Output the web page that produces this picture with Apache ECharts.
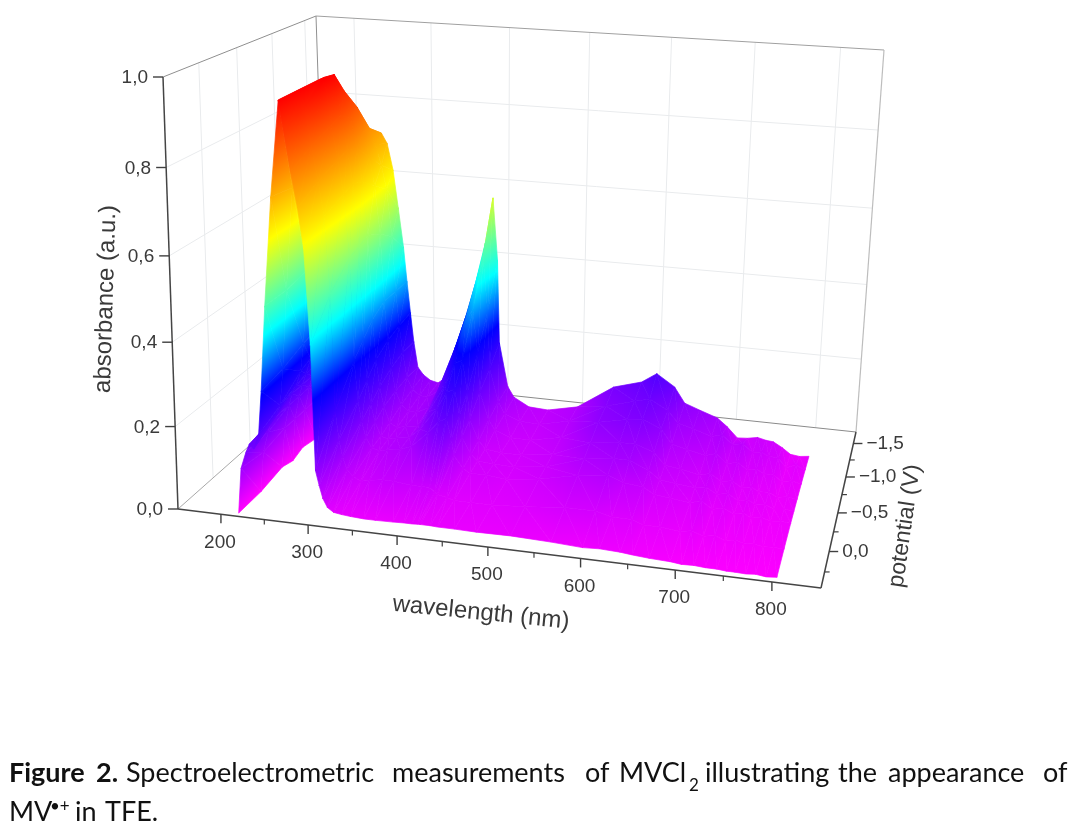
<!DOCTYPE html>
<html>
<head>
<meta charset="utf-8">
<style>html,body{margin:0;padding:0;background:#fff}#chart{width:1080px;height:828px}</style>
<script src="https://cdn.jsdelivr.net/npm/echarts@6/dist/echarts.min.js"></script>
</head>
<body>
<div id="chart"></div>
<script>
// measured spectra, one row per potential, back row first
const wavelengths = [217,221,227,231,236,242,246,252,261,271,276,283,290,296,302,306,310,314,319,326,335,345,360,373,393,405,414,420,423,434,442,461,485,522,566,600,618,640,653,671,693,705,718,730,742,752,761,772,782,793,804];
const potentials = [-1.1,-0.9,-0.7,-0.5,-0.35,-0.2,0.1,0.4];
const spectrumM110 = [.00,.11,.17,.20,.23,.27,.31,.44,.60,.71,.76,.735,.668,.57,.47,.38,.297,.22,.152,.133,.12,.115,.14,.22,.37,.50,.617,.458,.24,.125,.098,.076,.073,.09,.153,.174,.20,.17,.13,.116,.10,.08,.053,.055,.06,.055,.053,.04,.025,.022,.025];
const spectrumM090 = [.01,.11,.17,.20,.23,.27,.33,.47,.64,.76,.79,.75,.70,.64,.52,.38,.29,.22,.155,.125,.11,.108,.13,.20,.33,.42,.49,.35,.20,.115,.085,.07,.068,.085,.135,.155,.165,.14,.11,.10,.085,.092,.07,.075,.055,.058,.05,.048,.025,.035,.025];
const spectrumM070 = [.00,.11,.17,.20,.23,.27,.34,.49,.67,.82,.86,.80,.74,.67,.55,.38,.28,.21,.15,.115,.10,.10,.115,.17,.28,.35,.38,.27,.17,.10,.075,.06,.06,.075,.125,.14,.145,.125,.09,.08,.07,.078,.055,.062,.045,.05,.04,.04,.025,.03,.024];
const spectrumM050 = [.01,.11,.17,.20,.23,.27,.34,.50,.69,.87,.915,.85,.78,.70,.57,.36,.26,.19,.14,.10,.09,.095,.10,.14,.21,.27,.28,.20,.13,.08,.06,.055,.055,.065,.105,.115,.115,.10,.07,.065,.055,.062,.045,.05,.035,.04,.03,.032,.022,.026,.022];
const spectrumM035 = [.00,.11,.17,.20,.23,.27,.335,.495,.70,.92,.965,.87,.79,.71,.56,.33,.23,.17,.125,.09,.085,.09,.095,.12,.175,.22,.23,.165,.11,.07,.055,.052,.05,.06,.09,.10,.10,.08,.06,.055,.05,.055,.04,.045,.03,.035,.027,.028,.02,.023,.02];
const spectrumM020 = [.01,.11,.17,.20,.22,.26,.33,.51,.74,.965,.97,.86,.78,.70,.55,.30,.20,.15,.11,.085,.08,.085,.09,.10,.14,.17,.18,.13,.09,.06,.05,.05,.045,.055,.075,.085,.07,.065,.05,.045,.04,.048,.03,.036,.025,.03,.02,.024,.018,.02,.018];
const spectrumP010 = [.00,.10,.15,.18,.19,.22,.31,.50,.74,.965,.93,.84,.76,.68,.50,.22,.15,.11,.08,.065,.055,.06,.065,.065,.06,.06,.06,.05,.045,.04,.035,.035,.035,.04,.05,.05,.04,.04,.03,.03,.025,.03,.02,.025,.015,.02,.015,.016,.012,.014,.012];
const spectrumP040 = [.00,.11,.15,.17,.16,.195,.30,.50,.75,.965,.90,.81,.73,.64,.42,.125,.09,.06,.04,.03,.027,.025,.023,.023,.024,.025,.025,.026,.026,.026,.025,.025,.024,.025,.022,.018,.02,.018,.015,.012,.01,.007,.008,.006,.006,.004,.004,.003,.005,.002,.004];
const spectra = [spectrumM110, spectrumM090, spectrumM070, spectrumM050, spectrumM035, spectrumM020, spectrumP010, spectrumP040];

const absorbanceTicks = [0, 0.2, 0.4, 0.6, 0.8, 1.0];
const absorbanceLabels = ['0,0', '0,2', '0,4', '0,6', '0,8', '1,0'];
const wavelengthTicks = [200, 300, 400, 500, 600, 700, 800];
const wavelengthMinor = [250, 350, 450, 550, 650, 750];
const potentialTicks = [0, -0.5, -1.0, -1.5];
const potentialLabels = ['0,0', '\u22120,5', '\u22121,0', '\u22121,5'];
const potentialMinor = [0.25, -0.25, -0.75, -1.25];

const colorValues = [0, 0.29, 0.43, 0.54, 0.65, 0.965];
const colorNames = ['#ff00ff', '#0000ff', '#00ffff', '#80ff80', '#ffff00', '#ff0000'];

// box extent on the three axes
const WL_MIN = 150, WL_MAX = 850, V_FRONT = 0.44, V_BACK = -1.68;

// box corners on the page plane, [wavelength end][depth end][absorbance end]
const CORNERS = {
    '000': [178, 509], '100': [821, 588], '010': [328, 376], '110': [856, 432],
    '001': [163, 77], '101': [851, 128], '011': [316, 16], '111': [884, 50]
};

function warp(t, k) {
    return t / (t + k * (1 - t));
}

// perspective box projection: data triple to a point of the page plane
function toPlane(wl, v, a) {
    const u = warp((wl - WL_MIN) / (WL_MAX - WL_MIN), 1.075);
    const d = warp((V_FRONT - v) / (V_FRONT - V_BACK), 0.858);
    const h = warp(a, 1.06);
    const out = [0, 0];
    for (const key in CORNERS) {
        const w = (key[0] === '1' ? u : 1 - u) * (key[1] === '1' ? d : 1 - d) * (key[2] === '1' ? h : 1 - h);
        out[0] += w * CORNERS[key][0];
        out[1] += w * CORNERS[key][1];
    }
    return out;
}

function colorAt(a) {
    if (a <= colorValues[0]) return colorNames[0];
    for (let i = 1; i < colorValues.length; i++) {
        if (a <= colorValues[i]) {
            const t = (a - colorValues[i - 1]) / (colorValues[i] - colorValues[i - 1]);
            return echarts.color.lerp(t, [colorNames[i - 1], colorNames[i]]);
        }
    }
    return colorNames[colorNames.length - 1];
}

// exact linear colour field over one triangle
function triangleFill(p, a) {
    const min = Math.min(a[0], a[1], a[2]), max = Math.max(a[0], a[1], a[2]);
    const e1 = [p[1][0] - p[0][0], p[1][1] - p[0][1]];
    const e2 = [p[2][0] - p[0][0], p[2][1] - p[0][1]];
    const det = e1[0] * e2[1] - e1[1] * e2[0];
    if (max - min < 1e-4 || Math.abs(det) < 1e-3) return colorAt((min + max) / 2);
    const da1 = a[1] - a[0], da2 = a[2] - a[0];
    const gx = (da1 * e2[1] - da2 * e1[1]) / det;
    const gy = (da2 * e1[0] - da1 * e2[0]) / det;
    const g2 = gx * gx + gy * gy;
    const lo = a.indexOf(min);
    const x = p[lo][0], y = p[lo][1];
    const stops = [{ offset: 0, color: colorAt(min) }];
    colorValues.forEach(function (c) {
        if (c > min && c < max) stops.push({ offset: (c - min) / (max - min), color: colorAt(c) });
    });
    stops.push({ offset: 1, color: colorAt(max) });
    const span = (max - min) / g2;
    return new echarts.graphic.LinearGradient(x, y, x + gx * span, y + gy * span, stops, true);
}

const cells = [];
for (let r = 0; r < potentials.length - 1; r++) {
    for (let c = 0; c < wavelengths.length - 1; c++) {
        cells.push([r, c]);
    }
}

function renderCell(params, api) {
    const r = api.value(0), c = api.value(1);
    const corner = function (ri, ci) {
        return api.coord(toPlane(wavelengths[ci], potentials[ri], spectra[ri][ci]));
    };
    const pts = [corner(r, c), corner(r, c + 1), corner(r + 1, c + 1), corner(r + 1, c)];
    const vals = [spectra[r][c], spectra[r][c + 1], spectra[r + 1][c + 1], spectra[r + 1][c]];
    const tri = function (i, j, k) {
        const p = [pts[i], pts[j], pts[k]];
        const fill = triangleFill(p, [vals[i], vals[j], vals[k]]);
        return { type: 'polygon', shape: { points: p }, style: { fill: fill, stroke: fill, lineWidth: 0.7 }, silent: true };
    };
    return { type: 'group', children: [tri(0, 1, 2), tri(0, 2, 3)] };
}

function segment(api, from, to, color, width) {
    const a = api.coord(toPlane(from[0], from[1], from[2]));
    const b = api.coord(toPlane(to[0], to[1], to[2]));
    return {
        type: 'line',
        shape: { x1: a[0], y1: a[1], x2: b[0], y2: b[1] },
        style: { stroke: color, lineWidth: width },
        silent: true
    };
}

function renderWalls(params, api) {
    const children = [];
    const light = '#e9ebed';
    absorbanceTicks.slice(1, -1).forEach(function (a) {
        children.push(segment(api, [WL_MIN, V_FRONT, a], [WL_MIN, V_BACK, a], light, 1));
        children.push(segment(api, [WL_MIN, V_BACK, a], [WL_MAX, V_BACK, a], light, 1));
    });
    potentialTicks.forEach(function (v) {
        children.push(segment(api, [WL_MIN, v, 0], [WL_MIN, v, 1], light, 1));
    });
    wavelengthTicks.forEach(function (wl) {
        children.push(segment(api, [wl, V_BACK, 0], [wl, V_BACK, 1], light, 1));
    });
    children.push(segment(api, [WL_MIN, V_FRONT, 1], [WL_MIN, V_BACK, 1], '#8f8f8f', 1));
    children.push(segment(api, [WL_MIN, V_BACK, 1], [WL_MAX, V_BACK, 1], '#a0a0a0', 1));
    children.push(segment(api, [WL_MIN, V_BACK, 0], [WL_MIN, V_BACK, 1], '#909090', 1));
    children.push(segment(api, [WL_MAX, V_BACK, 0], [WL_MAX, V_BACK, 1], '#bdbdbd', 1.2));
    children.push(segment(api, [WL_MIN, V_BACK, 0], [WL_MAX, V_BACK, 0], '#8a8a8a', 1));
    children.push(segment(api, [WL_MIN, V_FRONT, 0], [WL_MIN, V_BACK, 0], '#a8a8a8', 1));
    return { type: 'group', children: children };
}

function label(api, at, dx, dy, text, align, size, rotation) {
    const p = api.coord(at);
    return {
        type: 'text',
        x: p[0] + dx,
        y: p[1] + dy,
        rotation: rotation || 0,
        silent: true,
        style: {
            text: text,
            fill: '#3a3a3a',
            font: size + 'px "Liberation Sans", Arial, sans-serif',
            textAlign: align,
            textVerticalAlign: 'middle'
        }
    };
}

function tick(api, from, dx, dy, width) {
    const a = api.coord(from);
    return {
        type: 'line',
        shape: { x1: a[0], y1: a[1], x2: a[0] + dx, y2: a[1] + dy },
        style: { stroke: '#404040', lineWidth: width },
        silent: true
    };
}

function renderAxes(params, api) {
    const c = [];
    c.push(segment(api, [WL_MIN, V_FRONT, 0], [WL_MIN, V_FRONT, 1], '#454545', 1.5));
    c.push(segment(api, [WL_MIN, V_FRONT, 0], [WL_MAX, V_FRONT, 0], '#454545', 1.5));
    c.push(segment(api, [WL_MAX, V_FRONT, 0], [WL_MAX, V_BACK, 0], '#454545', 1.5));
    absorbanceTicks.forEach(function (a, i) {
        const p = toPlane(WL_MIN, V_FRONT, a);
        c.push(tick(api, p, -10, 0, 1.4));
        c.push(label(api, p, -15, 1, absorbanceLabels[i], 'right', 19));
    });
    wavelengthTicks.forEach(function (wl) {
        const p = toPlane(wl, V_FRONT, 0);
        c.push(tick(api, p, 0, 9, 1.4));
        c.push(label(api, p, -1, 28, String(wl), 'center', 19));
    });
    wavelengthMinor.forEach(function (wl) {
        c.push(tick(api, toPlane(wl, V_FRONT, 0), 0, 5, 1.2));
    });
    potentialTicks.forEach(function (v, i) {
        const p = toPlane(WL_MAX, v, 0);
        c.push(tick(api, p, 9, 0, 1.4));
        c.push(label(api, p, 13, 0, potentialLabels[i], 'left', 19));
    });
    potentialMinor.forEach(function (v) {
        c.push(tick(api, toPlane(WL_MAX, v, 0), 5, 0, 1.2));
    });
    c.push(label(api, [106, 299], 0, 0, 'absorbance (a.u.)', 'center', 24, 1.54));
    c.push(label(api, [481, 613], 0, 0, 'wavelength (nm)', 'center', 24, -0.1));
    c.push(label(api, [905, 526], 0, 0, 'potential (V)', 'center', 23, 1.43));
    return { type: 'group', children: c };
}

const captionFont = '27px Lato, sans-serif';
const captionBold = 'bold 27px Lato, sans-serif';
function captionWord(text, x, y, font) {
    return { type: 'text', x: x, y: y, style: { text: text, fill: '#111', font: font || captionFont, textVerticalAlign: 'bottom' }, silent: true };
}

const option = {
    animation: false,
    grid: { left: 0, right: 0, top: 0, bottom: 0 },
    xAxis: { type: 'value', min: 0, max: 1080, show: false },
    yAxis: { type: 'value', min: 0, max: 828, inverse: true, show: false },
    series: [
        { type: 'custom', coordinateSystem: 'cartesian2d', data: [[0, 0]], renderItem: renderWalls, z: 1, clip: false, silent: true },
        { type: 'custom', coordinateSystem: 'cartesian2d', data: cells, renderItem: renderCell, z: 2, progressive: 0, clip: false, silent: true, encode: { x: 1, y: 0 } },
        { type: 'custom', coordinateSystem: 'cartesian2d', data: [[0, 0]], renderItem: renderAxes, z: 3, clip: false, silent: true }
    ],
    graphic: [
        captionWord('Figure', 9, 787, captionBold),
        captionWord('2.', 96, 787, captionBold),
        captionWord('Spectroelectrometric', 126, 787),
        captionWord('measurements', 392, 787),
        captionWord('of', 585, 787),
        captionWord('MVCl', 619, 787),
        { type: 'text', x: 689, y: 794, silent: true, style: { text: '2', fill: '#111', font: '17px Lato, sans-serif', textVerticalAlign: 'bottom' } },
        captionWord('illustrating', 705, 787),
        captionWord('the', 838, 787),
        captionWord('appearance', 888, 787),
        captionWord('of', 1043, 787),
        captionWord('MV', 9, 826),
        { type: 'text', x: 50, y: 815, silent: true, style: { text: '\u2022+', fill: '#111', font: '17px Lato, sans-serif', textVerticalAlign: 'bottom' } },
        captionWord('in', 75, 826),
        captionWord('TFE.', 105, 826)
    ]
};

const chart = echarts.init(document.getElementById('chart'));
chart.setOption(option);
</script>
</body>
</html>
